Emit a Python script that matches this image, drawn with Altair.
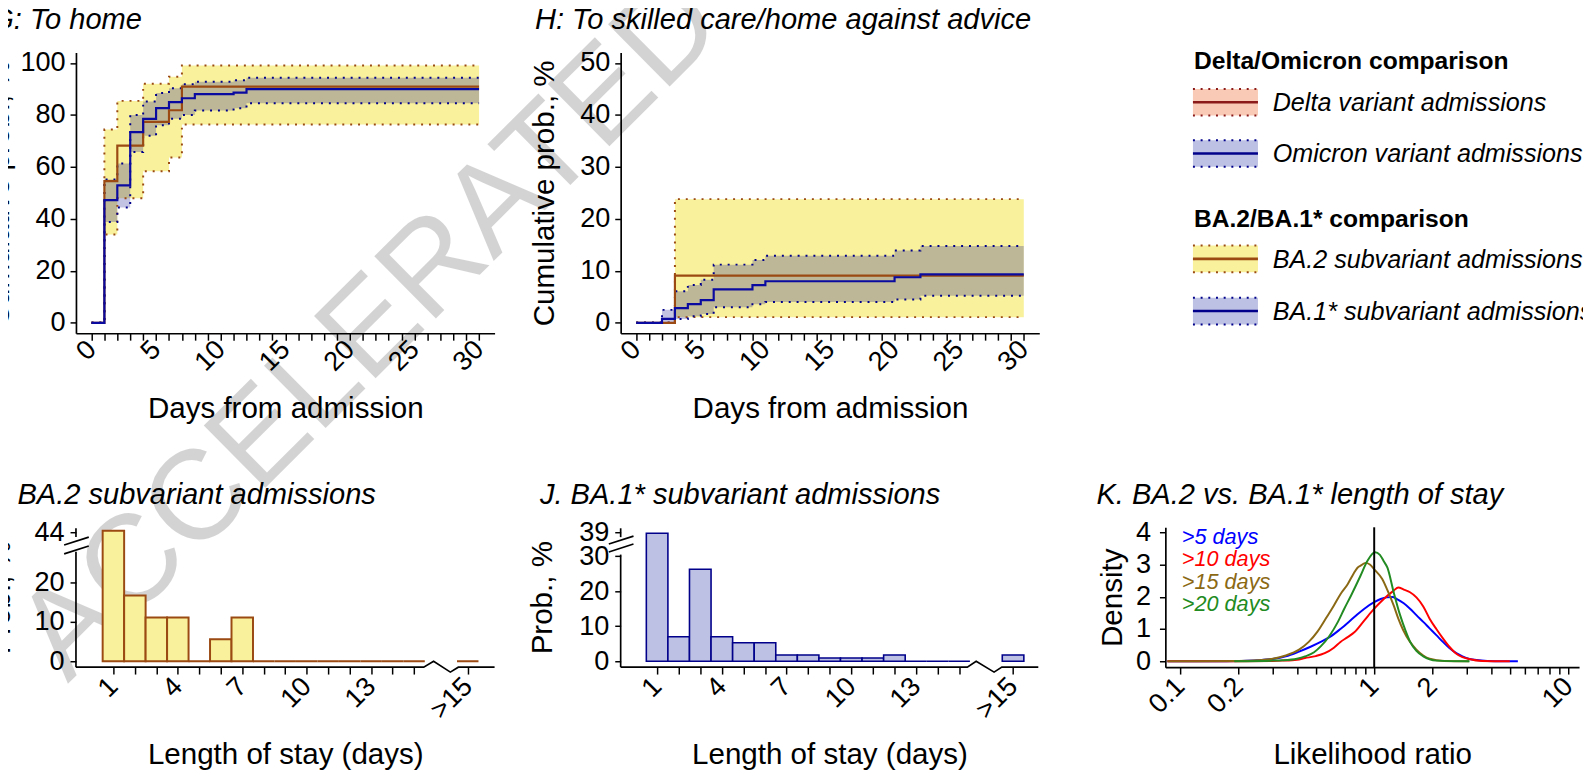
import altair as alt
import pandas as pd

FONT = "Liberation Sans"
YELLOW = "#F9F19B"
BROWN = "#9A4A12"
NAVY = "#00008B"
LINE_BLUE = "#0A0AA0"
LIGHT_BLUE = "#BDC1E3"
SALMON = "#F9CAB5"
DARK_RED = "#8B1A1A"

# ---------------- Panel G: To home (cumulative probability, %) ----------------
g_ba2_day = [0, 1, 2, 4, 6, 7, 30]
g_ba2_est = [0, 54.5, 68.2, 77.3, 81.8, 90.9, 90.9]
g_ba2_lo = [0, 34.0, 47.9, 58.3, 63.6, 76.3, 76.3]
g_ba2_hi = [0, 74.4, 85.4, 92.0, 94.7, 99.0, 99.0]
g_ba1_day = [0, 1, 2, 3, 4, 5, 6, 7, 8, 11, 12, 30]
g_ba1_est = [0, 47.2, 52.9, 73.4, 78.5, 82.6, 84.9, 86.4, 88.0, 88.6, 89.9, 89.9]
g_ba1_lo = [0, 38.8, 44.4, 65.7, 72.0, 76.0, 78.5, 80.0, 81.7, 82.6, 84.5, 84.5]
g_ba1_hi = [0, 55.2, 61.3, 80.0, 85.2, 88.4, 90.3, 91.8, 92.8, 93.3, 94.3, 94.3]

# ---------------- Panel H: To skilled care/home against advice ----------------
h_ba2_day = [0, 3, 30]
h_ba2_est = [0, 9.1, 9.1]
h_ba2_lo = [0, 1.1, 1.1]
h_ba2_hi = [0, 23.8, 23.8]
h_ba1_day = [0, 2, 3, 4, 5, 6, 9, 10, 20, 22, 30]
h_ba1_est = [0, 0.76, 2.84, 3.6, 4.36, 6.44, 7.26, 8.0, 8.78, 9.34, 9.34]
h_ba1_lo = [0, 0.0, 0.75, 1.26, 1.7, 3.0, 3.6, 4.0, 4.5, 5.2, 5.2]
h_ba1_hi = [0, 2.5, 6.1, 7.3, 8.3, 11.2, 12.1, 12.9, 13.9, 14.8, 14.8]

# ---------------- Panels I / J: length of stay distributions ----------------
los_labels = ["1", "2", "3", "4", "5", "6", "7", "8", "9", "10", "11", "12", "13", "14", "15", ">15"]
los_pos = [1, 2, 3, 4, 5, 6, 7, 8, 9, 10, 11, 12, 13, 14, 15, 17.5]
i_prob = [44.4, 16.7, 11.1, 11.1, 0, 5.6, 11.1, 0, 0, 0, 0, 0, 0, 0, 0, 0]
j_prob = [38.6, 7.0, 26.3, 7.0, 5.3, 5.3, 1.8, 1.8, 0.9, 0.9, 0.9, 1.8, 0, 0, 0, 1.8]

# ---------------- Panel K: likelihood-ratio densities ----------------
k_groups = [">5 days", ">10 days", ">15 days", ">20 days"]
k_colors = ["#0000FF", "#FF0000", "#8B6914", "#228B22"]
k5_x = [0.086, 0.15, 0.2, 0.25, 0.3, 0.35, 0.41, 0.47, 0.53, 0.6, 0.67, 0.79, 0.89, 1.0, 1.08, 1.16, 1.24,
        1.31, 1.42, 1.53, 1.65, 1.79, 1.93, 2.09, 2.26, 2.44, 2.65, 2.85, 3.1, 3.46, 4.2, 5.5]
k5_y = [0.0, 0.0, 0.01, 0.03, 0.07, 0.15, 0.3, 0.45, 0.6, 0.78, 1.0, 1.37, 1.63, 1.83, 1.93, 1.98, 1.99,
        1.93, 1.8, 1.63, 1.43, 1.22, 1.02, 0.81, 0.6, 0.41, 0.25, 0.15, 0.07, 0.03, 0.0, 0.0]
k10_x = [0.086, 0.2, 0.3, 0.335, 0.4, 0.44, 0.5, 0.556, 0.62, 0.67, 0.73, 0.79, 0.89, 1.0, 1.12, 1.26, 1.33,
         1.42, 1.53, 1.65, 1.79, 1.93, 2.09, 2.26, 2.44, 2.63, 2.85, 3.08, 3.6, 5.0]
k10_y = [0.0, 0.0, 0.01, 0.02, 0.05, 0.1, 0.16, 0.25, 0.42, 0.6, 0.75, 0.9, 1.27, 1.63, 1.93, 2.19, 2.29,
         2.22, 2.14, 1.98, 1.7, 1.32, 1.0, 0.71, 0.45, 0.25, 0.13, 0.07, 0.01, 0.0]
k15_x = [0.086, 0.2, 0.25, 0.3, 0.35, 0.41, 0.46, 0.51, 0.56, 0.62, 0.67, 0.73, 0.78, 0.82, 0.86, 0.9, 0.95,
         1.0, 1.1, 1.18, 1.26, 1.33, 1.41, 1.53, 1.65, 1.79, 1.93, 2.3, 3.08]
k15_y = [0.0, 0.01, 0.03, 0.08, 0.18, 0.36, 0.6, 0.92, 1.3, 1.73, 2.08, 2.39, 2.7, 2.9, 2.98, 3.05, 3.0,
         2.85, 2.55, 2.15, 1.73, 1.33, 0.97, 0.6, 0.36, 0.18, 0.08, 0.01, 0.0]
k20_x = [0.19, 0.3, 0.335, 0.4, 0.44, 0.49, 0.53, 0.59, 0.65, 0.7, 0.76, 0.85, 0.92, 1.01, 1.07, 1.12, 1.17,
         1.26, 1.36, 1.45, 1.53, 1.65, 1.79, 2.09, 3.1]
k20_y = [0.0, 0.02, 0.03, 0.08, 0.15, 0.28, 0.46, 0.8, 1.22, 1.62, 2.04, 2.65, 3.1, 3.38, 3.3, 3.1, 2.9,
         2.14, 1.43, 0.95, 0.61, 0.32, 0.15, 0.02, 0.0]
k_ticks = [0.1, 0.2, 0.3, 0.4, 0.5, 0.6, 0.7, 0.8, 0.9, 1, 2, 3, 4, 5, 6, 7, 8, 9, 10]

# ---------------- Legend ----------------
leg_heads = ["Delta/Omicron comparison", "BA.2/BA.1* comparison"]
leg_names = ["Delta variant admissions", "Omicron variant admissions",
             "BA.2 subvariant admissions", "BA.1* subvariant admissions"]
leg_fill = [SALMON, LIGHT_BLUE, YELLOW, LIGHT_BLUE]
leg_line = [DARK_RED, NAVY, BROWN, NAVY]


def x_axis(values, label_expr, title, title_y, pad, fmt=None, domain=True):
    kw = dict(values=values, labelExpr=label_expr, title=title, titleY=title_y,
              titleBaseline="alphabetic", labelAngle=-45, labelAlign="right",
              labelBaseline="middle", labelPadding=pad, tickSize=7, labelFlush=False,
              labelOverlap=False, grid=False, domain=domain)
    if fmt:
        kw["format"] = fmt
    return alt.Axis(**kw)


def y_axis(values, title, title_x, pad=6, domain=True):
    return alt.Axis(values=values, title=title, titleX=title_x, titleBaseline="bottom",
                    titleAlign="center", titleAngle=270, tickSize=6, labelPadding=pad,
                    labelFlush=False, labelOverlap=False, grid=False, domain=domain)


def ttl(text, dx, offset):
    return alt.TitleParams(text, anchor="start", frame="group", dx=dx, dy=29.5, offset=offset,
                           baseline="alphabetic")


def km_panel(s2, s1, ymax, yticks, title, dx):
    pad = 0.04 * ymax
    xs = alt.Scale(domain=[-1.2, 31.2], nice=False, zero=False)
    ys = alt.Scale(domain=[-pad, ymax + pad], nice=False, zero=False)
    xa = x_axis(list(range(31)), "datum.value % 5 == 0 ? datum.label : ''", "Days from admission", 86, 5)
    ya = y_axis(yticks, "Cumulative prob., %", -62, pad=5)
    band2 = alt.Chart(s2).mark_area(interpolate="step-after", color=YELLOW, opacity=1).encode(
        x=alt.X("day:Q", scale=xs, axis=xa), y=alt.Y("lo:Q", scale=ys, axis=ya), y2="hi:Q")
    band1 = alt.Chart(s1).mark_area(interpolate="step-after", color=NAVY, opacity=0.24).encode(
        x=alt.X("day:Q", axis=xa), y=alt.Y("lo:Q", axis=ya), y2="hi:Q")

    def edges(df, color):
        return alt.Chart(df).transform_fold(["lo", "hi"], as_=["bound", "val"]).mark_line(
            interpolate="step-after", color=color, strokeDash=[2, 6], strokeWidth=2).encode(
            x=alt.X("day:Q", axis=xa), y=alt.Y("val:Q", axis=ya), detail="bound:N")

    def est(df, color):
        return alt.Chart(df).mark_line(interpolate="step-after", color=color, strokeWidth=2.2).encode(
            x=alt.X("day:Q", axis=xa), y=alt.Y("est:Q", axis=ya))

    return alt.layer(band2, band1, edges(s2, BROWN), edges(s1, NAVY), est(s2, BROWN),
                     est(s1, LINE_BLUE)).properties(width=425, height=285, title=ttl(title, dx, 20))


def bar_panel(prob, fill, stroke, sw, ydom, yrng, yticks, xmin, xmax, guide, title, dx, ytx, width):
    df = pd.DataFrame({"pos": los_pos, "label": los_labels, "prob": prob})
    xs = alt.Scale(domain=[xmin, xmax], nice=False, zero=False)
    ys = alt.Scale(domain=ydom, range=yrng, nice=False, zero=False)
    lab = "datum.value == 17.5 ? '>15' : (indexof([1, 4, 7, 10, 13], datum.value) >= 0 ? datum.label : '')"
    xa = x_axis(los_pos, lab, "Length of stay (days)", 98, 8, domain=False)
    ya = y_axis(yticks, "Prob., %", ytx, pad=6, domain=False)
    bars = alt.Chart(df).transform_calculate(
        x0="datum.pos - 0.5", x1="datum.pos + 0.5", z="0").mark_rect(
        fill=fill, stroke=stroke, strokeWidth=sw).encode(
        x=alt.X("x0:Q", scale=xs, axis=xa), x2="x1:Q",
        y=alt.Y("prob:Q", scale=ys, axis=ya), y2="z:Q")
    g = alt.Chart(guide).mark_line(color="black", strokeWidth=1.7).encode(
        x=alt.X("gx:Q", axis=xa), y=alt.Y("gy:Q", axis=ya), detail="seg:N", order="ord:Q")
    return alt.layer(bars, g).properties(width=width, height=142, title=ttl(title, dx, 15))


def broken_guides(xmin, xmax, ybot, ylow_top, zig, stub, slash_x, slash1, slash2):
    rows = []
    pts = [(xmin, ybot), (zig[0], ybot), (zig[1], 0), (zig[2], zig[4]), (zig[3], ybot), (xmax, ybot)]
    for k, (a, b) in enumerate(pts):
        rows.append(("xa", k, a, b))
    rows += [("ya", 0, xmin, ybot), ("ya", 1, xmin, ylow_top)]
    rows += [("st", 0, xmin, stub[0]), ("st", 1, xmin, stub[1])]
    rows += [("s1", 0, slash_x[0], slash1[0]), ("s1", 1, slash_x[1], slash1[1])]
    rows += [("s2", 0, slash_x[0], slash2[0]), ("s2", 1, slash_x[1], slash2[1])]
    return pd.DataFrame(rows, columns=["seg", "ord", "gx", "gy"])


# ---- G, H ----
G = km_panel(pd.DataFrame({"day": g_ba2_day, "est": g_ba2_est, "lo": g_ba2_lo, "hi": g_ba2_hi}),
             pd.DataFrame({"day": g_ba1_day, "est": g_ba1_est, "lo": g_ba1_lo, "hi": g_ba1_hi}),
             100, [0, 20, 40, 60, 80, 100], "G: To home", -86)
H = km_panel(pd.DataFrame({"day": h_ba2_day, "est": h_ba2_est, "lo": h_ba2_lo, "hi": h_ba2_hi}),
             pd.DataFrame({"day": h_ba1_day, "est": h_ba1_est, "lo": h_ba1_lo, "hi": h_ba1_hi}),
             50, [0, 10, 20, 30, 40, 50], "H: To skilled care/home against advice", -87)

# ---- I, J ----
i_xmin, i_xmax = -0.743, 18.75
I = bar_panel(i_prob, YELLOW, BROWN, 2, [-1.5, 27.5, 44, 45.25], [142, 26, 5, 0], [0, 10, 20, 44],
              i_xmin, i_xmax,
              broken_guides(i_xmin, i_xmax, -1.5, 28.5, [15.45, 15.91, 16.69, 17.06, -2.75], [40.1, 45.0],
                            [-1.293, -0.147], [33.79, 40.07], [27.25, 33.0]),
              "I. BA.2 subvariant admissions", -84, -61, 425)
j_xmin, j_xmax = -0.69, 18.67
J = bar_panel(j_prob, LIGHT_BLUE, NAVY, 1.6, [-1.7, 30.5, 39, 40.4], [142, 27.7, 5, 0], [0, 10, 20, 30, 39],
              j_xmin, j_xmax,
              broken_guides(j_xmin, j_xmax, -1.7, 30.5, [15.38, 15.79, 16.62, 16.98, -3.11], [37.13, 40.12],
                            [-1.238, -0.096], [34.51, 37.5], [31.51, 34.51]),
              "J. BA.1* subvariant admissions", -82, -64, 424)

# ---- K ----
k_df = pd.concat([
    pd.DataFrame({"grp": k_groups[0], "lr": k5_x, "dens": k5_y}),
    pd.DataFrame({"grp": k_groups[1], "lr": k10_x, "dens": k10_y}),
    pd.DataFrame({"grp": k_groups[2], "lr": k15_x, "dens": k15_y}),
    pd.DataFrame({"grp": k_groups[3], "lr": k20_x, "dens": k20_y}),
])
k_ylo, k_yhi = -0.183, 4.153
kxs = alt.Scale(type="log", domain=[0.0839, 11.37], nice=False)
kys = alt.Scale(domain=[k_ylo, k_yhi], nice=False, zero=False)
kcs = alt.Scale(domain=k_groups, range=k_colors)
k_lab = "(datum.value == 0.1 || datum.value == 0.2 || datum.value == 1 || datum.value == 2 || datum.value == 10) ? datum.label : ''"
kxa = x_axis(k_ticks, k_lab, "Likelihood ratio", 98, 8, fmt=".1~f")
kya = y_axis([0, 1, 2, 3, 4], "Density", -39, pad=9)
k_lines = alt.Chart(k_df).mark_line(interpolate="monotone", strokeWidth=2).encode(
    x=alt.X("lr:Q", scale=kxs, axis=kxa),
    y=alt.Y("dens:Q", scale=kys, axis=kya),
    color=alt.Color("grp:N", scale=kcs, legend=None))
k_vline = alt.Chart(pd.DataFrame({"lr": [1.0], "y0": [k_ylo], "y1": [k_yhi]})).mark_rule(
    color="black", strokeWidth=2).encode(x=alt.X("lr:Q", axis=kxa), y=alt.Y("y0:Q", axis=kya), y2="y1:Q")
k_text_df = pd.DataFrame({"grp": k_groups, "lr": 0.102, "dens": [3.85, 3.18, 2.44, 1.77]})
k_text = alt.Chart(k_text_df).mark_text(align="left", baseline="middle", fontSize=22, fontStyle="italic",
                                        font=FONT).encode(
    x=alt.X("lr:Q", axis=kxa), y=alt.Y("dens:Q", axis=kya), text="grp:N",
    color=alt.Color("grp:N", scale=kcs, legend=None))
K = alt.layer(k_lines, k_vline, k_text).properties(width=420, height=142,
                                                     title=ttl("K. BA.2 vs. BA.1* length of stay", -70, 15))

# ---- Legend panel (with the preprint watermark) ----
LW, LH = 420, 285
lxs = alt.Scale(domain=[0, LW], nice=False, zero=False)
lys = alt.Scale(domain=[0, LH], nice=False, zero=False, reverse=True)
tops = [37, 89, 196, 249]
sw = pd.DataFrame({"name": leg_names, "fill": leg_fill, "line": leg_line, "top": tops})
sw["bot"] = sw["top"] + 27
sw["mid"] = sw["top"] + 13.5
sw["x0"] = 28
sw["x1"] = 94
sw["xt"] = 109
sw["yt"] = sw["mid"] + 1
heads = pd.DataFrame({"head": leg_heads, "xh": 29, "yh": [9, 169]})

sw_fill = alt.Chart(sw).mark_rect().encode(
    x=alt.X("x0:Q", scale=lxs, axis=None), x2="x1:Q",
    y=alt.Y("top:Q", scale=lys, axis=None), y2="bot:Q", fill=alt.Fill("fill:N", scale=None))
sw_dots = alt.Chart(sw).transform_fold(["top", "bot"], as_=["edge", "ey"]).mark_rule(
    strokeDash=[2, 5.8], strokeWidth=2).encode(
    x=alt.X("x0:Q", axis=None), x2="x1:Q", y=alt.Y("ey:Q", axis=None), color=alt.Color("line:N", scale=None))
sw_line = alt.Chart(sw).mark_rule(strokeWidth=2.6).encode(
    x=alt.X("x0:Q", axis=None), x2="x1:Q", y=alt.Y("mid:Q", axis=None), color=alt.Color("line:N", scale=None))
sw_text = alt.Chart(sw).mark_text(align="left", baseline="middle", fontSize=25.5, fontStyle="italic",
                                  font=FONT, color="black").encode(
    x=alt.X("xt:Q", axis=None), y=alt.Y("yt:Q", axis=None), text="name:N")
hd_text = alt.Chart(heads).mark_text(align="left", baseline="middle", fontSize=25, fontWeight="bold",
                                     font=FONT, color="black").encode(
    x=alt.X("xh:Q", axis=None), y=alt.Y("yh:Q", axis=None), text="head:N")
watermark = alt.Chart(pd.DataFrame({"t": ["ACCELERATED"]})).mark_text(
    angle=315.2, fontSize=129, font=FONT, color="black", opacity=0.17, align="center",
    baseline="middle").encode(text="t:N", x=alt.value(-807), y=alt.value(281))
LEG = alt.layer(sw_fill, sw_dots, sw_line, sw_text, hd_text, watermark).properties(width=LW, height=LH)

chart = alt.concat(G, H, LEG, I, J, K, columns=3, spacing={"row": 197, "column": 128},
                   bounds="flush").properties(
    padding={"left": -24, "top": -57.6, "right": -10, "bottom": -4}
).configure_view(stroke=None).configure_axis(
    labelFont=FONT, titleFont=FONT, labelFontSize=27.5, titleFontSize=30, titleFontWeight="normal",
    labelColor="black", titleColor="black", domainColor="black", tickColor="black",
    domainWidth=1.7, tickWidth=1.5
).configure_title(font=FONT, fontSize=29.5, fontStyle="italic", fontWeight="normal", color="black"
).configure_text(font=FONT)

chart.save("out.html", embed_options={"renderer": "svg", "actions": False})
